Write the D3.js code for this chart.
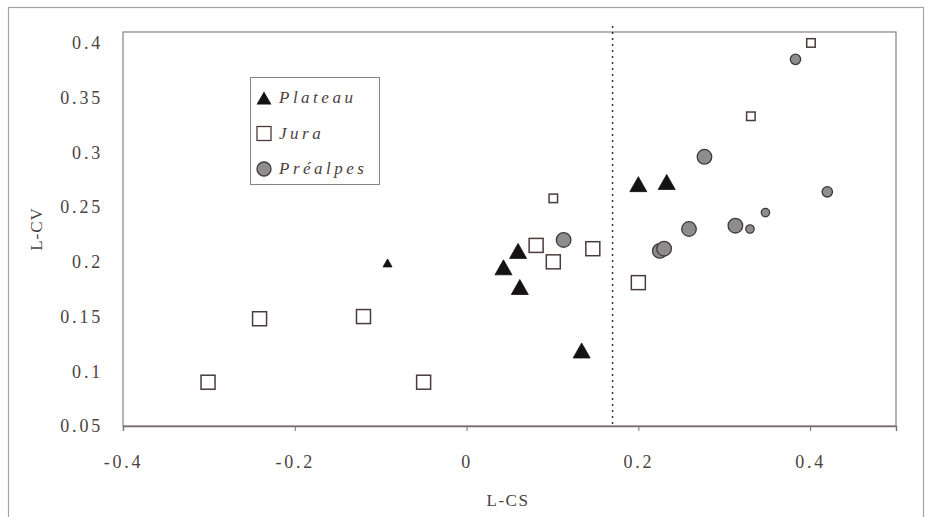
<!DOCTYPE html>
<html>
<head>
<meta charset="utf-8">
<script src="https://cdn.jsdelivr.net/npm/d3@7"></script>
<style>
  html, body { margin: 0; padding: 0; background: #fff; }
  svg { display: block; }
  text { font-family: "Liberation Serif", "Times New Roman", serif; fill: #4a4242; }
</style>
</head>
<body>
<svg id="chart" width="928" height="517"></svg>
<script>
// L-CS / L-CV moments by region
const plateauX = [-0.092, 0.043, 0.060, 0.062, 0.134, 0.200, 0.233];
const plateauY = [0.199, 0.195, 0.210, 0.177, 0.119, 0.271, 0.273];
const plateauClass = ["S", "L", "L", "L", "L", "L", "L"];

const juraX = [-0.301, -0.241, -0.120, -0.050, 0.101, 0.081, 0.101, 0.147, 0.200, 0.331, 0.401];
const juraY = [0.090, 0.148, 0.150, 0.090, 0.258, 0.215, 0.200, 0.212, 0.181, 0.333, 0.400];
const juraClass = ["L", "L", "L", "L", "S", "L", "L", "L", "L", "S", "S"];

const prealpesX = [0.113, 0.277, 0.259, 0.313, 0.330, 0.348, 0.420, 0.225, 0.230, 0.383];
const prealpesY = [0.220, 0.296, 0.230, 0.233, 0.230, 0.245, 0.264, 0.210, 0.212, 0.385];
const prealpesClass = ["L", "L", "L", "L", "S", "S", "M", "L", "L", "M"];

const xTicks = [-0.4, -0.2, 0, 0.2, 0.4];
const yTicks = [0.05, 0.1, 0.15, 0.2, 0.25, 0.3, 0.35, 0.4];
const xTickLabels = ["-0.4", "-0.2", "0", "0.2", "0.4"];
const yTickLabels = ["0.05", "0.1", "0.15", "0.2", "0.25", "0.3", "0.35", "0.4"];
const threshold = 0.17;
const seriesNames = ["Plateau", "Jura", "Préalpes"];

const svg = d3.select("#chart");
const plot = { left: 123, right: 896, top: 32, bottom: 426 };

const x = d3.scaleLinear().domain([-0.4, 0.5]).range([plot.left, plot.right]);
const y = d3.scaleLinear().domain([0.05, 0.41]).range([plot.bottom, plot.top]);

// outer chart frame
svg.append("rect")
  .attr("x", 8.5).attr("y", 7.5).attr("width", 915).attr("height", 540)
  .attr("fill", "none").attr("stroke", "#a8a4a4").attr("stroke-width", 1.2);

// plot area border
svg.append("rect")
  .attr("x", plot.left).attr("y", plot.top)
  .attr("width", plot.right - plot.left).attr("height", plot.bottom - plot.top)
  .attr("fill", "none").attr("stroke", "#8c8080").attr("stroke-width", 1.2);

// x axis
const xAxis = d3.axisBottom(x)
  .tickValues(xTicks)
  .tickSize(5)
  .tickPadding(24)
  .tickFormat((d, i) => xTickLabels[i]);
const gx = svg.append("g").attr("transform", `translate(0,${plot.bottom})`).call(xAxis);
gx.select(".domain").attr("stroke", "#7a6c6a").attr("stroke-width", 1.4);
gx.selectAll(".tick line").attr("stroke", "#7a6c6a");
gx.selectAll(".tick text")
  .attr("font-size", 18).attr("letter-spacing", "2.8px")
  .attr("font-family", "Liberation Serif, serif").attr("fill", "#4a4242");

// y axis (labels only)
const yAxis = d3.axisLeft(y)
  .tickValues(yTicks)
  .tickSize(0)
  .tickPadding(20)
  .tickFormat((d, i) => yTickLabels[i]);
const gy = svg.append("g").attr("transform", `translate(${plot.left},0)`).call(yAxis);
gy.select(".domain").remove();
gy.selectAll(".tick text")
  .attr("font-size", 18).attr("letter-spacing", "2.8px")
  .attr("font-family", "Liberation Serif, serif").attr("fill", "#4a4242");

// axis titles
svg.append("text")
  .attr("x", 508).attr("y", 506)
  .attr("text-anchor", "middle").attr("font-size", 17).attr("letter-spacing", "1.5px")
  .text("L-CS");
svg.append("text")
  .attr("transform", "translate(42,229) rotate(-90)")
  .attr("text-anchor", "middle").attr("font-size", 17).attr("letter-spacing", "1px")
  .text("L-CV");

// dotted threshold line
svg.append("line")
  .attr("x1", x(threshold)).attr("x2", x(threshold))
  .attr("y1", plot.top - 6).attr("y2", plot.bottom)
  .attr("stroke", "#333").attr("stroke-width", 1.5)
  .attr("stroke-dasharray", "2,4");

// marker shapes
function triangle(cx, cy, w, h) {
  return `M${cx},${cy - h / 2}L${cx + w / 2},${cy + h / 2}L${cx - w / 2},${cy + h / 2}Z`;
}
const triSize = { L: [17, 15], S: [9, 8] };
const sqSize = { L: 14, S: 8.5 };
const circR = { L: 7.3, M: 5.2, S: 4.2 };

const marks = svg.append("g");

// Préalpes circles
marks.selectAll("circle.pre")
  .data(prealpesX.map((v, i) => ({ x: v, y: prealpesY[i], c: prealpesClass[i] })))
  .join("circle")
  .attr("class", "pre")
  .attr("cx", d => x(d.x)).attr("cy", d => y(d.y))
  .attr("r", d => circR[d.c])
  .attr("fill", "#8e8c8c").attr("stroke", "#3e3a3a").attr("stroke-width", 1.3);

// Jura squares
marks.selectAll("rect.jura")
  .data(juraX.map((v, i) => ({ x: v, y: juraY[i], c: juraClass[i] })))
  .join("rect")
  .attr("class", "jura")
  .attr("x", d => x(d.x) - sqSize[d.c] / 2).attr("y", d => y(d.y) - sqSize[d.c] / 2)
  .attr("width", d => sqSize[d.c]).attr("height", d => sqSize[d.c])
  .attr("fill", "#fff").attr("stroke", "#4a3c3a").attr("stroke-width", 1.5);

// Plateau triangles
marks.selectAll("path.plateau")
  .data(plateauX.map((v, i) => ({ x: v, y: plateauY[i], c: plateauClass[i] })))
  .join("path")
  .attr("class", "plateau")
  .attr("d", d => triangle(x(d.x), y(d.y), triSize[d.c][0], triSize[d.c][1]))
  .attr("fill", "#141212").attr("stroke", "#141212").attr("stroke-width", 0.8);

// legend
const lg = svg.append("g");
lg.append("rect")
  .attr("x", 250.5).attr("y", 77.5).attr("width", 129).attr("height", 107)
  .attr("fill", "#fff").attr("stroke", "#8c8080").attr("stroke-width", 1);
const rowY = [98, 133.5, 169];
lg.append("path")
  .attr("d", triangle(264, rowY[0], 15, 13))
  .attr("fill", "#141212");
lg.append("rect")
  .attr("x", 257).attr("y", rowY[1] - 7).attr("width", 14).attr("height", 14)
  .attr("fill", "#fff").attr("stroke", "#4a3c3a").attr("stroke-width", 1.3);
lg.append("circle")
  .attr("cx", 264).attr("cy", rowY[2]).attr("r", 7)
  .attr("fill", "#8e8c8c").attr("stroke", "#3e3a3a").attr("stroke-width", 1.3);
lg.selectAll("text.lab")
  .data(seriesNames)
  .join("text")
  .attr("class", "lab")
  .attr("x", 279).attr("y", (d, i) => rowY[i] + 5)
  .attr("font-size", 17).attr("font-style", "italic").attr("letter-spacing", "3.5px")
  .text(d => d);
</script>
</body>
</html>
